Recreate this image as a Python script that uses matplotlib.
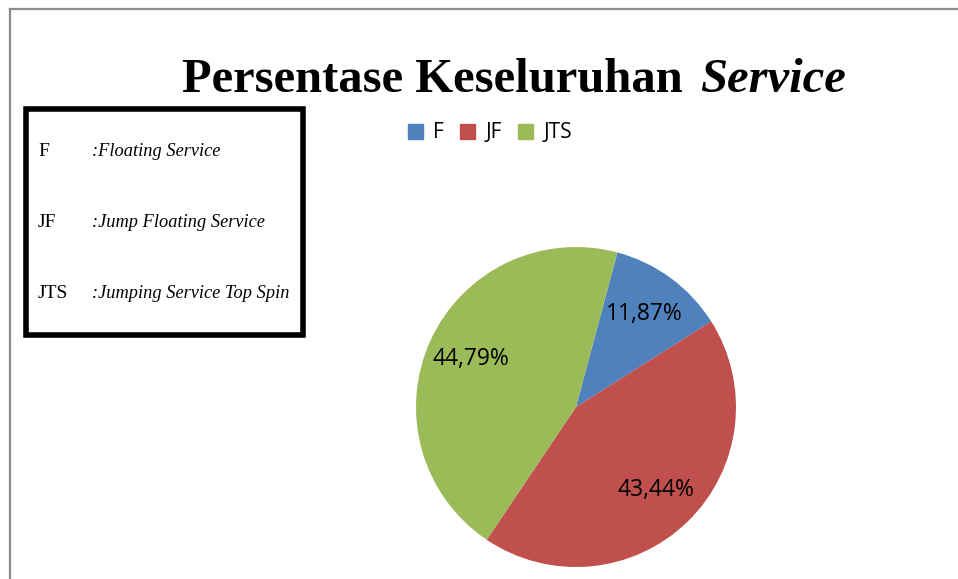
import numpy as np
import matplotlib.pyplot as plt
from matplotlib.patches import Rectangle, Patch
from matplotlib.lines import Line2D

# data
kategori = ["F", "JF", "JTS"]
persen = [11.87, 43.44, 44.79]
label_persen = ["11,87%", "43,44%", "44,79%"]
warna = ["#4F81BD", "#C0504D", "#9BBB59"]
keterangan = [("F", ":Floating Service"),
              ("JF", ":Jump Floating Service"),
              ("JTS", ":Jumping Service Top Spin")]

W, H = 958, 579
fig = plt.figure(figsize=(W / 100, H / 100), dpi=100)


def fx(x):
    return x / W


def fy(y):
    return 1 - y / H


# bingkai abu-abu di atas dan kiri
fig.add_artist(Line2D([fx(10), 1], [fy(9), fy(9)], color="#8c8c8c", lw=1.6))
fig.add_artist(Line2D([fx(10), fx(10)], [fy(9), 0], color="#8c8c8c", lw=1.6))

# judul
fig.text(fx(182), fy(92), "Persentase Keseluruhan", family="Liberation Serif",
         weight="bold", fontsize=35, va="baseline", ha="left")
fig.text(fx(700), fy(92), "Service", family="Liberation Serif",
         weight="bold", style="italic", fontsize=35, va="baseline", ha="left")

# kotak keterangan
fig.add_artist(Rectangle((fx(26), fy(335)), fx(303) - fx(26), fy(109) - fy(335),
                         transform=fig.transFigure, fill=False, lw=4, ec="black"))
for i, (k, t) in enumerate(keterangan):
    yb = 156 + i * 71
    fig.text(fx(38), fy(yb), k, family="Liberation Serif", fontsize=14, va="baseline")
    fig.text(fx(92), fy(yb), t, family="Liberation Serif", style="italic",
             fontsize=13.2, va="baseline")

# pie
cx, cy, r = 576, 407, 160
ax = fig.add_axes([fx(cx - r), 1 - (cy + r) / H, 2 * r / W, 2 * r / H])
wedges, _ = ax.pie(persen, colors=warna, startangle=75, counterclock=False)
for w, lab in zip(wedges, label_persen):
    th = np.deg2rad((w.theta1 + w.theta2) / 2)
    ax.text(0.72 * np.cos(th), 0.72 * np.sin(th), lab, ha="center", va="center",
            fontsize=16.5, family="Open Sans")
ax.set_xlim(-1, 1)
ax.set_ylim(-1, 1)
ax.set_aspect("equal")

handles = [Patch(color=c, label=k) for c, k in zip(warna, kategori)]
fig.legend(handles=handles, loc="center", bbox_to_anchor=(fx(490), fy(133)),
           ncol=3, frameon=False, handlelength=0.7, handleheight=0.7,
           handletextpad=0.5, columnspacing=0.8,
           prop=dict(family="Open Sans", size=15))

fig.savefig("out.png", dpi=100)
